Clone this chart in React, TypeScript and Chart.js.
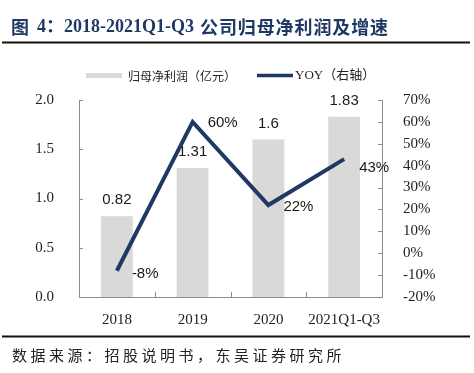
import React, { useEffect, useRef } from "react";
import { Chart, registerables } from "chart.js";

Chart.register(...registerables);

const categories = ["2018", "2019", "2020", "2021Q1-Q3"];
const profit = [0.82, 1.31, 1.6, 1.83];
const profitLabels = ["0.82", "1.31", "1.6", "1.83"];
const yoy = [-8, 60, 22, 43];
const yoyLabels = ["-8%", "60%", "22%", "43%"];

const titleParts = ["图", "4：", "2018-2021Q1-Q3", "公司归母净利润及增速"];
const sourceText = "数据来源：招股说明书，东吴证券研究所";
const legendBar = "归母净利润（亿元）";
const legendLine = "YOY（右轴）";

const NAVY = "#1f3864";
const BAR = "#d9d9d9";
const AXIS = "#8c8c8c";
const SERIF = '"Liberation Serif", "Times New Roman", "Noto Sans CJK SC"';
const CJK = '"Noto Sans CJK SC", "Liberation Serif"';
const SANS = '"Liberation Sans", Arial, sans-serif';

const decor = {
  id: "decor",
  afterDatasetDraw(chart: any, args: any) {
    if (args.index !== 0) return;
    const ctx = chart.ctx;
    const meta = chart.getDatasetMeta(0);
    ctx.save();
    ctx.font = `15px ${SANS}`;
    ctx.fillStyle = "#1a1a1a";
    ctx.textAlign = "center";
    ctx.textBaseline = "middle";
    meta.data.forEach((el: any, i: number) => {
      ctx.fillText(profitLabels[i], el.x, el.y - 16);
    });
    ctx.restore();
  },
  afterDatasetsDraw(chart: any) {
    const ctx = chart.ctx;
    const meta = chart.getDatasetMeta(1);
    const dys = [3, 1, 2, 9];
    ctx.save();
    ctx.font = `15px ${SANS}`;
    ctx.fillStyle = "#1a1a1a";
    ctx.textAlign = "left";
    ctx.textBaseline = "middle";
    meta.data.forEach((el: any, i: number) => {
      ctx.fillText(yoyLabels[i], el.x + 15, el.y + dys[i]);
    });
    ctx.restore();
  },
  afterDraw(chart: any) {
    const ctx = chart.ctx;
    const { left, right, bottom } = chart.chartArea;
    const y = chart.scales.y;
    const y1 = chart.scales.y1;
    ctx.save();
    // tick marks
    ctx.strokeStyle = AXIS;
    ctx.lineWidth = 1;
    ctx.beginPath();
    y.ticks.forEach((t: any) => {
      const py = Math.round(y.getPixelForValue(t.value)) + 0.5;
      ctx.moveTo(left, py);
      ctx.lineTo(left + 4, py);
    });
    y1.ticks.forEach((t: any) => {
      const py = Math.round(y1.getPixelForValue(t.value)) + 0.5;
      ctx.moveTo(right, py);
      ctx.lineTo(right - 4, py);
    });
    const xs = chart.scales.x;
    const w = (right - left) / categories.length;
    for (let i = 1; i < categories.length; i++) {
      const px = Math.round(xs.getPixelForValue(i) - w / 2) + 0.5;
      ctx.moveTo(px, bottom);
      ctx.lineTo(px, bottom - 5);
    }
    ctx.stroke();

    // title
    ctx.fillStyle = NAVY;
    ctx.textAlign = "left";
    ctx.textBaseline = "middle";
    ctx.font = `bold 18px ${CJK}`;
    ctx.fillText(titleParts[0], 11, 27);
    ctx.font = `bold 18px ${SERIF}`;
    ctx.fillText(titleParts[1], 37, 27);
    ctx.fillText(titleParts[2], 64, 27);
    ctx.font = `bold 18px ${CJK}`;
    let tx = 200;
    for (const ch of titleParts[3]) {
      ctx.fillText(ch, tx, 27);
      tx += 18.9;
    }
    ctx.fillStyle = "#111";
    ctx.fillRect(2, 41.5, 468, 2);

    // legend
    ctx.fillStyle = BAR;
    ctx.fillRect(86, 73, 36, 5);
    ctx.fillStyle = "#222";
    ctx.font = `12px ${CJK}`;
    ctx.fillText(legendBar, 128, 76);
    ctx.strokeStyle = NAVY;
    ctx.lineWidth = 3.5;
    ctx.beginPath();
    ctx.moveTo(257, 75.5);
    ctx.lineTo(293, 75.5);
    ctx.stroke();
    ctx.font = `13px ${SERIF}`;
    ctx.fillText(legendLine, 295, 76);

    // footer
    ctx.fillStyle = "#111";
    ctx.fillRect(2, 335.5, 468, 2);
    ctx.font = `15px ${CJK}`;
    ctx.fillStyle = "#222";
    let x = 12;
    for (const ch of sourceText) {
      ctx.fillText(ch, x, 355);
      x += 18.5;
    }
    ctx.restore();
  },
};

export default function App() {
  const ref = useRef<HTMLCanvasElement>(null);
  useEffect(() => {
    document.body.style.margin = "0";
    const chart = new Chart(ref.current!, {
      type: "bar",
      data: {
        labels: categories,
        datasets: [
          {
            type: "bar",
            label: legendBar,
            data: profit,
            backgroundColor: BAR,
            categoryPercentage: 1,
            barPercentage: 0.42,
            yAxisID: "y",
            order: 1,
          },
          {
            type: "line",
            label: legendLine,
            data: yoy,
            borderColor: NAVY,
            borderWidth: 4,
            pointRadius: 0,
            tension: 0,
            borderJoinStyle: "miter",
            yAxisID: "y1",
            order: 0,
          } as any,
        ],
      },
      options: {
        responsive: false,
        animation: false,
        devicePixelRatio: 1,
        layout: { padding: { top: 100, left: 0, right: 0, bottom: 0 } },
        plugins: { legend: { display: false }, tooltip: { enabled: false } },
        scales: {
          x: {
            grid: { display: false },
            border: { display: true, color: AXIS, width: 1 },
            ticks: {
              font: { family: SERIF, size: 15 },
              color: "#222",
              padding: 6,
              maxRotation: 0,
              minRotation: 0,
              autoSkip: false,
            },
            afterFit: (s: any) => {
              s.height = 76;
            },
          },
          y: {
            position: "left",
            min: 0,
            max: 2,
            grid: { display: false },
            border: { display: true, color: AXIS, width: 1 },
            ticks: {
              stepSize: 0.5,
              font: { family: SERIF, size: 15 },
              color: "#222",
              padding: 17,
              callback: (v: any) => Number(v).toFixed(1),
            },
            afterFit: (s: any) => {
              s.width = 79;
            },
          },
          y1: {
            position: "right",
            min: -20,
            max: 70,
            grid: { display: false },
            border: { display: true, color: AXIS, width: 1 },
            ticks: {
              stepSize: 10,
              font: { family: SERIF, size: 15 },
              color: "#222",
              padding: 13,
              callback: (v: any) => `${Math.round(Number(v))}%`,
            },
            afterFit: (s: any) => {
              s.width = 92;
            },
          },
        },
      },
      plugins: [decor],
    });
    return () => chart.destroy();
  }, []);
  return (
    <div style={{ width: 474, height: 373, background: "#fff" }}>
      <canvas ref={ref} width={474} height={373} style={{ display: "block" }} />
    </div>
  );
}
